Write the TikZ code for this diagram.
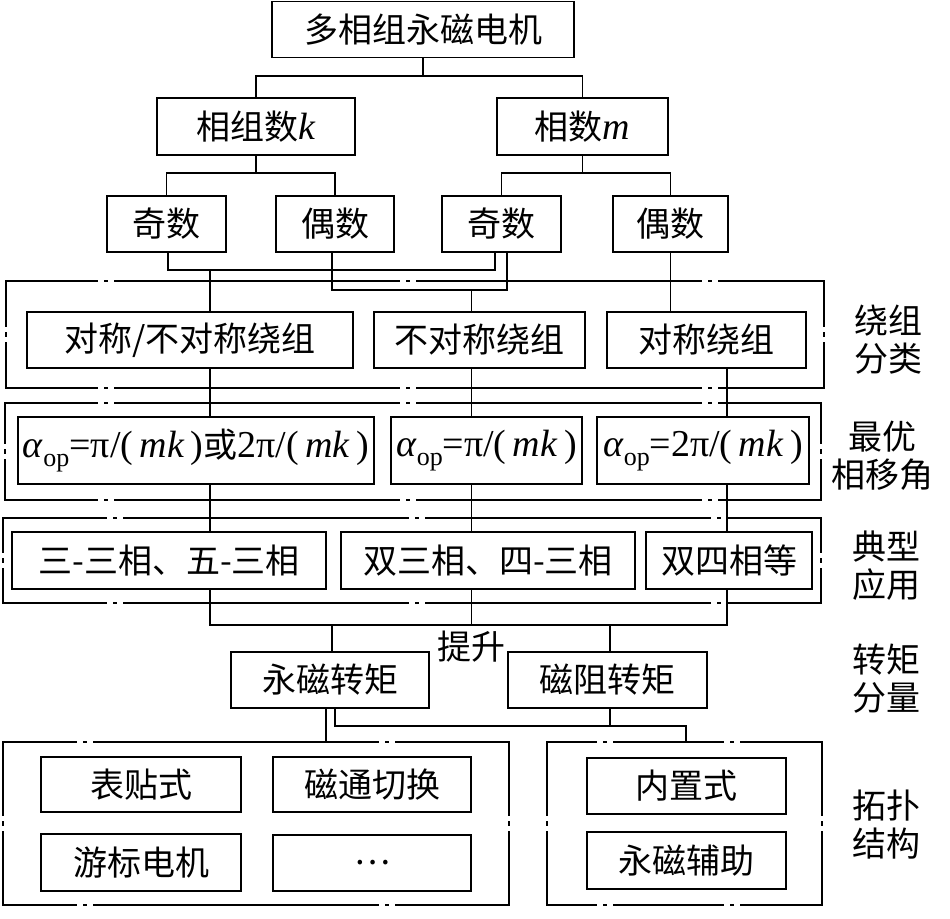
\documentclass[tikz,border=0pt]{standalone}
\usepackage{fontspec}
\setmainfont{Liberation Serif}
\newfontfamily\cjk{Noto Sans CJK SC}
\newfontfamily\tnr{Liberation Serif}
\newcommand\cjkbig{\cjk\fontsize{34}{38}\selectfont}
\newcommand\latbig{\fontsize{38}{42}\selectfont}
\newcommand\subop{\raisebox{-0.22em}{\fontsize{26}{26}\selectfont op}}
\newcommand\zh[1]{{\cjk\fontsize{34}{38}\selectfont #1}}
\newcommand\itl[1]{{\tnr\itshape\fontsize{38}{42}\selectfont #1}}
% dash-dot frame: x1 y1 x2 y2 hphase vphase
\newcommand\dfr[6]{%
  \draw[fr,dash phase=#5pt] (#1,#2) -- (#3,#2);
  \draw[fr,dash phase=#5pt] (#1,#4) -- (#3,#4);
  \draw[fr,dash phase=#6pt] (#1,#2) -- (#1,#4);
  \draw[fr,dash phase=#6pt] (#3,#2) -- (#3,#4);}
\begin{document}
\begin{tikzpicture}[x=1pt,y=-1pt,
  box/.style={draw,line width=1.4pt,inner sep=0pt,font=\cjkbig,fill=white},
  ln/.style={line width=1.4pt},
  fr/.style={line width=1.4pt,line cap=rect,dash pattern=on 285pt off 7pt on 3pt off 7pt},
  fr5/.style={line width=1.4pt,line cap=rect,dash pattern=on 110pt off 7pt on 3pt off 7pt},
  lab/.style={font=\cjkbig,align=center,inner sep=0pt}]
\useasboundingbox (0,0) rectangle (950,918);

% frames
\dfr{6}{281}{824}{388}{193.5}{240}
\dfr{5}{403}{821}{500}{192.5}{245}
\dfr{3}{518}{821}{603}{181.5}{251}
\dfr{3}{742}{509}{905}{211.5}{212}
\draw[fr5,dash phase=60.5pt] (547,742) -- (822,742);
\draw[fr5,dash phase=60.5pt] (547,905) -- (822,905);
\draw[fr5,dash phase=37pt] (547,742) -- (547,905);
\draw[fr5,dash phase=37pt] (822,742) -- (822,905);

% column coordinates
\coordinate (X1) at (210,0);
\coordinate (X2) at (471.5,0);
\coordinate (X3) at (727,0);

% junction coordinates
\coordinate (c1) at (423,76);
\coordinate (c2) at (256,173);
\coordinate (c3) at (582.5,173);
\coordinate (d1) at (168,270);
\coordinate (d2) at (495,270);
\coordinate (e1a) at (332,290);
\coordinate (e2a) at (507,290);
\coordinate (g1) at (210,625);
\coordinate (g3) at (727,625);
\coordinate (Y1) at (332,0);
\coordinate (Y2) at (610,0);
\coordinate (Z1) at (326,0);
\coordinate (h1) at (335,726);
\coordinate (h2) at (686,726);
\coordinate (F4a) at (326,742);
\coordinate (F5a) at (686,742);

% nodes
\node[box,minimum width=302pt,minimum height=56pt] (top) at (423,29.5) {多相组永磁电机};
\node[box,minimum width=198pt,minimum height=57pt] (k) at (256,126.5) {相组数\itl{k}};
\node[box,minimum width=171pt,minimum height=57pt] (m) at (582.5,126.5) {相数\itl{m}};
\node[box,minimum width=119pt,minimum height=56pt] (o1) at (166.5,224) {奇数};
\node[box,minimum width=118pt,minimum height=56pt] (e1) at (335,224) {偶数};
\node[box,minimum width=119pt,minimum height=56pt] (o2) at (501.5,224) {奇数};
\node[box,minimum width=115pt,minimum height=56pt] (e2) at (670.5,224) {偶数};
\node[box,minimum width=326pt,minimum height=56pt] (w1) at (190,340) {对称/不对称绕组};
\node[box,minimum width=211pt,minimum height=56pt] (w2) at (479.5,340) {不对称绕组};
\node[box,minimum width=199pt,minimum height=56pt] (w3) at (706.5,340) {对称绕组};
\node[box,minimum width=356pt,minimum height=67pt,font=\latbig] (a1) at (196,450.5)
  {\textit{α}\subop=π/(\,\textit{mk}\,)\zh{或}2π/(\,\textit{mk}\,)};
\node[box,minimum width=191pt,minimum height=67pt,font=\latbig] (a2) at (486.5,450.5)
  {\textit{α}\subop=π/(\,\textit{mk}\,)};
\node[box,minimum width=212pt,minimum height=67pt,font=\latbig] (a3) at (703,450.5)
  {\textit{α}\subop=2π/(\,\textit{mk}\,)};
\node[box,minimum width=314pt,minimum height=57pt] (t1) at (169,560.5) {三-三相、五-三相};
\node[box,minimum width=294pt,minimum height=57pt] (t2) at (488,560.5) {双三相、四-三相};
\node[box,minimum width=166pt,minimum height=57pt] (t3) at (729,560.5) {双四相等};
\node[box,minimum width=198pt,minimum height=56pt] (pm) at (330,680) {永磁转矩};
\node[box,minimum width=199pt,minimum height=56pt] (rl) at (607.5,680) {磁阻转矩};
\node[font=\cjkbig,inner sep=0pt] (up) at (471,647) {提升};
\node[box,minimum width=200pt,minimum height=55pt] (b1) at (141,784.5) {表贴式};
\node[box,minimum width=198pt,minimum height=55pt] (b2) at (372,784.5) {磁通切换};
\node[box,minimum width=200pt,minimum height=57pt] (b3) at (141,862.5) {游标电机};
\node[box,minimum width=198pt,minimum height=56pt] (b4) at (372,863) {…};
\node[box,minimum width=199pt,minimum height=56pt] (b5) at (686.5,786) {内置式};
\node[box,minimum width=199pt,minimum height=57pt] (b6) at (686.5,860.5) {永磁辅助};

% row labels
\node[lab] (L1) at (888,340) {绕组\\分类};
\node[lab] (L2) at (882,456) {最优\\相移角};
\node[lab] (L3) at (886,566) {典型\\应用};
\node[lab] (L4) at (886,679) {转矩\\分量};
\node[lab] (L5) at (886,825) {拓扑\\结构};

% connectors
\draw[ln] (top.south) -- (c1);
\draw[ln] (k.north) |- (c1) -| (m.north);
\draw[ln] (k.south) -- (c2);
\draw[ln] (o1.north) |- (c2) -| (e1.north);
\draw[ln] (m.south) -- (c3);
\draw[ln] (o2.north) |- (c3) -| (e2.north);
\draw[ln] (o1.south -| d1) -- (d1) -- (d2) -- (o2.south -| d2);
\draw[ln] (X1 |- d1) -- (w1.north -| X1);
\draw[ln] (e1.south -| e1a) -- (e1a) -- (e2a) -- (o2.south -| e2a);
\draw[ln] (X2 |- e1a) -- (w2.north -| X2);
\draw[ln] (e2.south) -- (w3.north -| e2.south);
\draw[ln] (w1.south -| X1) -- (a1.north -| X1);
\draw[ln] (w2.south -| X2) -- (a2.north -| X2);
\draw[ln] (w3.south -| X3) -- (a3.north -| X3);
\draw[ln] (a1.south -| X1) -- (t1.north -| X1);
\draw[ln] (a2.south -| X2) -- (t2.north -| X2);
\draw[ln] (a3.south -| X3) -- (t3.north -| X3);
\draw[ln] (t1.south -| X1) -- (g1) -- (g3) -- (t3.south -| X3);
\draw[ln] (t2.south -| X2) -- (X2 |- g1);
\draw[ln] (Y1 |- g1) -- (pm.north -| Y1);
\draw[ln] (Y2 |- g1) -- (rl.north -| Y2);
\draw[ln] (pm.south -| Z1) -- (F4a);
\draw[ln] (pm.south -| h1) -- (h1) -- (h2) -- (F5a);
\draw[ln] (rl.south -| Y2) -- (Y2 |- h1);
\end{tikzpicture}
\end{document}
